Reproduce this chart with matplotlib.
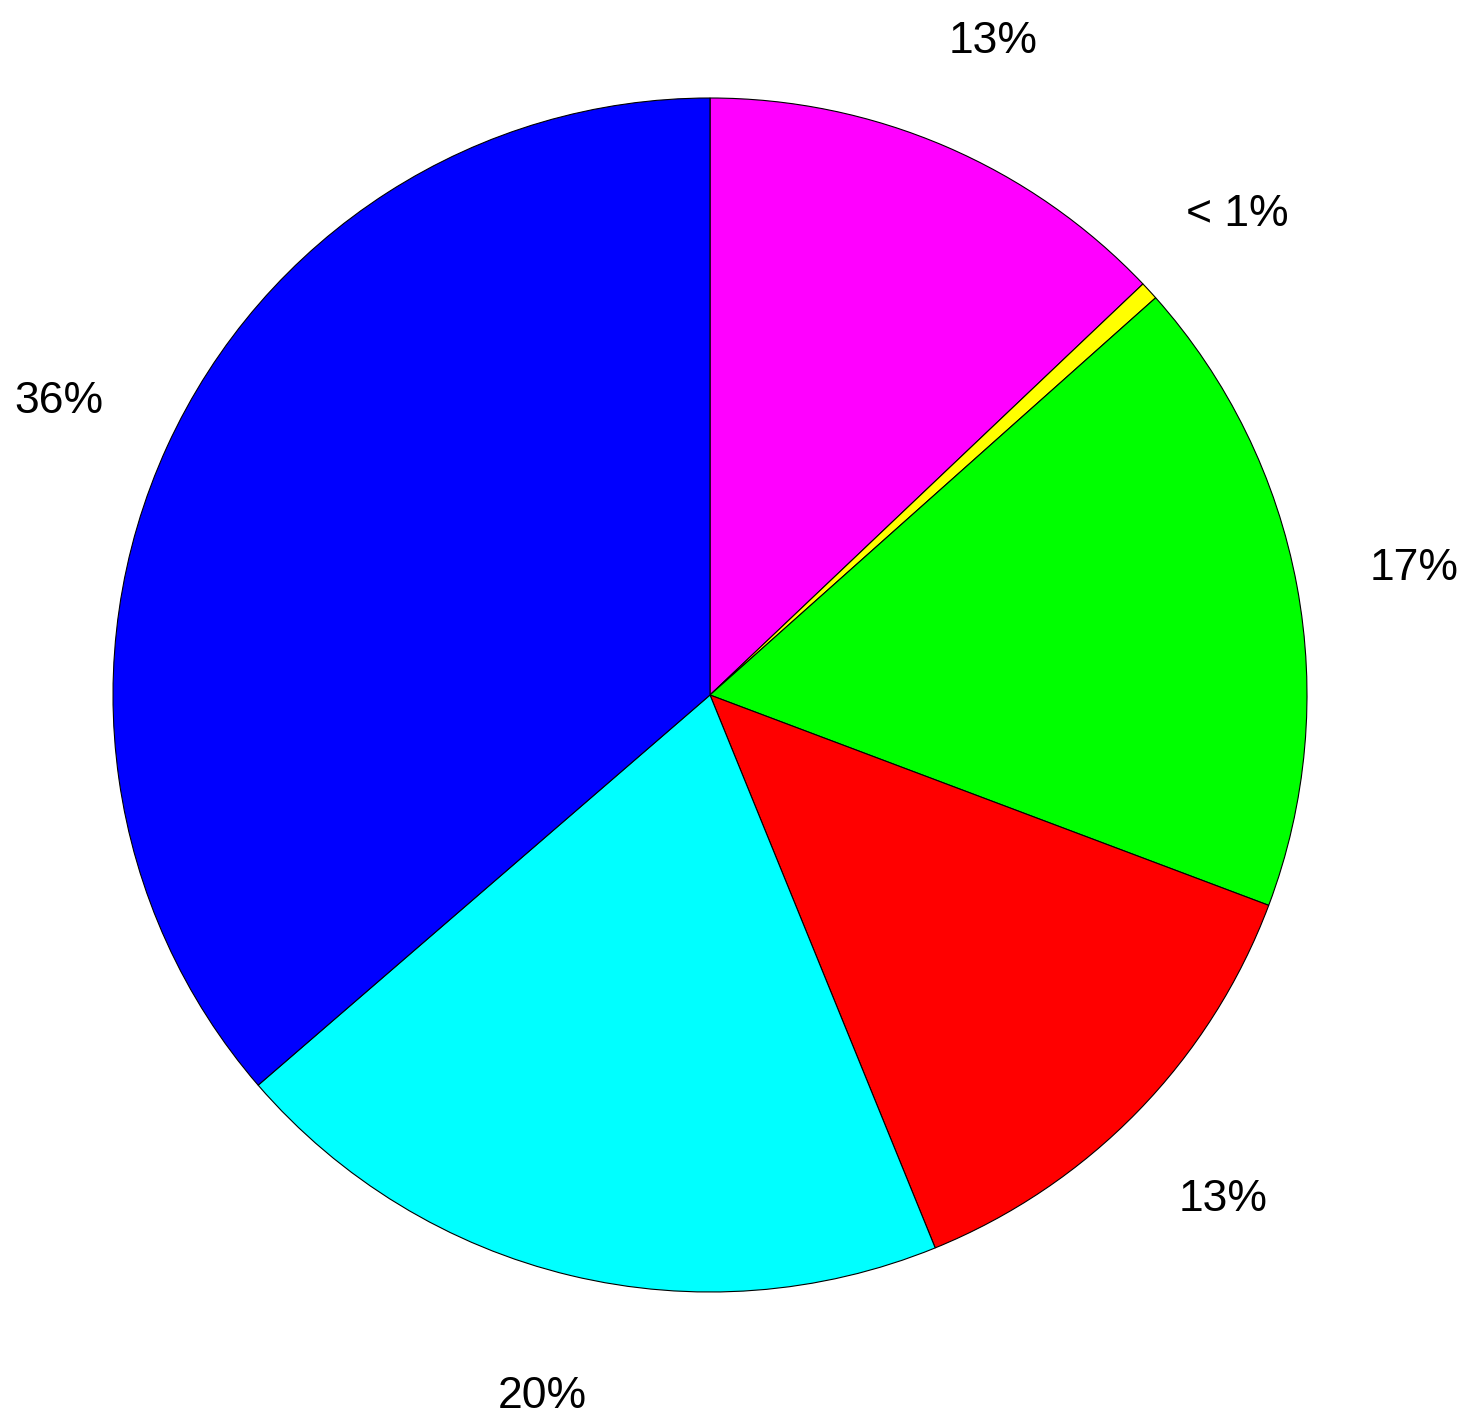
import matplotlib
matplotlib.use('Agg')
import matplotlib.pyplot as plt

# slice shares (percent), clockwise from 12 o'clock
shares = [12.9, 0.5, 17.3, 13.1, 19.8, 36.3]
labels = ['13%', '< 1%', '17%', '13%', '20%', '36%']
colors = ['#FF00FF', '#FFFF00', '#00FF00', '#FF0000', '#00FFFF', '#0000FF']

W, H = 1476, 1428
cx, cy, R = 710, 695, 597   # pixel centre / radius of the pie

fig = plt.figure(figsize=(W / 100, H / 100), dpi=100)
ax = fig.add_axes([0, 0, 1, 1])

wedges, texts = ax.pie(shares, labels=labels, colors=colors, startangle=90,
                       counterclock=False, labeldistance=1.2,
                       wedgeprops=dict(edgecolor='black', linewidth=0.8),
                       textprops=dict(fontsize=32, family='Liberation Sans'))
for t in texts:
    t.set_ha('center')
    t.set_va('center_baseline')

ax.set_xlim(-cx / R, (W - cx) / R)
ax.set_ylim(-(H - cy) / R, cy / R)
ax.set_aspect('equal')
ax.axis('off')

fig.savefig('out.png', dpi=100, facecolor='white')
